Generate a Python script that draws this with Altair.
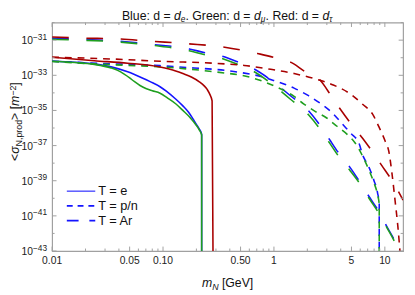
import altair as alt
import numpy as np
import pandas as pd

# ---------------- data (m in GeV, log10 <sigma> in m^-2) -------------
# d = d_e (blue)
blue_e_m = [0.01, 0.016, 0.024, 0.034, 0.048, 0.065, 0.0765, 0.094, 0.107, 0.13, 0.151, 0.17, 0.185, 0.2, 0.212, 0.223, 0.2231]
blue_e_lg = [-32.2, -32.26, -32.35, -32.52, -32.8, -33.15, -33.36, -33.65, -33.9, -34.35, -34.74, -35.1, -35.45, -35.8, -36.05, -36.36, -44.0]
blue_pn_m = [0.01, 0.03, 0.094, 0.14, 0.36, 0.51, 0.8, 1.0, 1.52, 2.05, 2.69, 3.37, 4.12, 4.95, 5.87, 6.28, 7.2, 7.96, 8.6, 8.9, 8.901]
blue_pn_lg = [-32.2, -32.33, -32.45, -32.53, -32.72, -32.85, -33.1, -33.3, -33.73, -34.16, -34.65, -35.15, -35.76, -36.31, -36.9, -37.5, -38.24, -38.97, -39.7, -40.3, -44.0]
blue_ar_m = [0.01, 0.0184, 0.039, 0.082, 0.172, 0.234, 0.33, 0.48, 0.645, 0.94, 1.4, 2.05, 2.6, 3.18, 3.91, 4.85, 6.07, 7.2, 8.83, 10.4, 12.8, 13.8]
blue_ar_lg = [-30.9, -30.95, -31.05, -31.25, -31.5, -31.7, -31.89, -32.26, -32.6, -33.27, -34.15, -35.02, -35.84, -36.67, -37.5, -38.24, -39.16, -39.9, -40.75, -41.6, -42.7, -43.3]

# d = d_mu (green)
green_e_m = [0.01, 0.016, 0.024, 0.034, 0.039, 0.045, 0.05, 0.055, 0.062, 0.07, 0.08, 0.094, 0.11, 0.13, 0.151, 0.175, 0.197, 0.212, 0.223, 0.2231]
green_e_lg = [-32.2, -32.27, -32.38, -32.58, -32.72, -32.95, -33.15, -33.35, -33.58, -33.75, -33.88, -34.02, -34.3, -34.62, -35.0, -35.4, -35.8, -36.1, -36.4, -44.0]
green_pn_m = [0.01, 0.03, 0.094, 0.14, 0.36, 0.51, 0.8, 1.0, 1.52, 1.85, 2.35, 2.99, 3.7, 4.55, 5.4, 6.3, 7.2, 7.96, 8.6, 8.9, 8.901]
green_pn_lg = [-32.22, -32.38, -32.52, -32.6, -32.87, -33.0, -33.35, -33.6, -34.2, -34.62, -35.05, -35.43, -35.9, -36.35, -36.85, -37.6, -38.4, -39.1, -39.8, -40.35, -44.0]
green_ar_m = [0.01, 0.0184, 0.039, 0.082, 0.172, 0.234, 0.33, 0.48, 0.645, 0.94, 1.4, 2.05, 2.6, 3.18, 3.91, 4.85, 6.07, 7.2, 8.83, 10.4, 12.8, 13.8]
green_ar_lg = [-30.95, -31.0, -31.1, -31.3, -31.6, -31.82, -32.02, -32.4, -32.75, -33.45, -34.35, -35.25, -36.06, -36.86, -37.69, -38.42, -39.25, -40.0, -40.85, -41.65, -42.75, -43.3]

# d = d_tau (red)
red_e_m = [0.01, 0.024, 0.048, 0.094, 0.13, 0.151, 0.18, 0.211, 0.235, 0.251, 0.265, 0.277, 0.2828]
red_e_lg = [-31.97, -32.17, -32.31, -32.53, -32.75, -32.9, -33.1, -33.36, -33.6, -33.82, -34.1, -34.46, -44.0]
red_pn_m = [0.01, 0.034, 0.094, 0.36, 0.54, 0.87, 1.52, 2.28, 3.43, 4.98, 6.3, 7.73, 8.85, 10.1, 10.85, 11.6, 12.4, 13.1, 13.8]
red_pn_lg = [-31.97, -32.07, -32.2, -32.35, -32.44, -32.63, -32.9, -33.18, -33.55, -34.1, -34.65, -35.2, -35.94, -36.77, -37.32, -38.6, -40.2, -41.6, -43.3]
red_ar_m = [0.01, 0.0184, 0.039, 0.082, 0.172, 0.36, 0.71, 1.0, 1.51, 1.86, 2.6, 3.3, 4.06, 5.07, 6.3, 7.47, 9.4, 11.55, 14.6]
red_ar_lg = [-30.82, -30.88, -30.93, -31.07, -31.21, -31.4, -31.76, -31.98, -32.35, -32.75, -33.27, -34.19, -35.02, -35.84, -36.58, -37.22, -38.14, -38.97, -40.1]

# axes ticks / labels
x_major = [0.01, 0.05, 0.1, 0.5, 1, 5, 10]
x_major_labels = ["0.01", "0.05", "0.10", "0.50", "1", "5", "10"]
x_minor = [0.02, 0.03, 0.04, 0.06, 0.07, 0.08, 0.09, 0.2, 0.3, 0.4, 0.6, 0.7, 0.8, 0.9,
           2, 3, 4, 6, 7, 8, 9]
y_major_exp = [-31, -33, -35, -37, -39, -41, -43]
y_minor_exp = [-30, -32, -34, -36, -38, -40, -42]

legend_labels = ["T = e", "T = p/n", "T = Ar"]

# ---------------- styling ----------------
W, H = 358, 233
FONT = "Liberation Sans"
BLUE, GREEN, RED = "#1414ff", "#1f9f1f", "#a80000"
FRAME = "#a0a0a0"
DASH_PN = [7, 6]
DASH_AR = [17, 18]

xscale = alt.Scale(type="log", domain=[0.01, 14.6], nice=False)
yscale = alt.Scale(type="log", domain=[1e-43, 1e-30], nice=False)

AW = {' ': 278, '.': 278, ':': 278, ',': 278, '=': 584, '<': 584, '>': 584, '[': 278, ']': 278,
      '/': 278, 'B': 667, 'G': 778, 'R': 722, 'T': 611, 'A': 667, 'V': 667, 'N': 722,
      'e': 556, 'l': 222, 'u': 556, 'd': 556, 'r': 333, 'n': 556, 'o': 556, 'p': 556,
      'm': 833, 'μ': 576, 'τ': 480, 'σ': 600, '−': 584, '2': 556}


def tw(s, size):
    return sum(AW.get(c, 556) for c in s) / 1000.0 * size


def txt(s, x, y, size, italic=False, angle=0, align="left", baseline="alphabetic", color="#111"):
    kw = dict(align=align, baseline=baseline, fontSize=size, font=FONT, color=color)
    if italic:
        kw["fontStyle"] = "italic"
    if angle:
        kw["angle"] = angle
    return alt.Chart(pd.DataFrame({"t": [s]})).mark_text(**kw).encode(
        text="t:N", x=alt.value(x), y=alt.value(y))


def rich_h(pieces, cx, base_y):
    total = sum(tw(t, s) for t, s, _, _ in pieces)
    x = cx - total / 2
    out = []
    for t, s, it, dy in pieces:
        lead = len(t) - len(t.lstrip())
        out.append(txt(t.strip(), x + tw(t[:lead], s), base_y + dy, s, it))
        x += tw(t, s)
    return out


def rich_v(pieces, base_x, cy):
    total = sum(tw(t, s) for t, s, _, _ in pieces)
    y = cy + total / 2
    out = []
    for t, s, it, dx in pieces:
        lead = len(t) - len(t.lstrip())
        out.append(txt(t.strip(), base_x + dx, y - tw(t[:lead], s), s, it, angle=270))
        y -= tw(t, s)
    return out


def curve(m, lg, color, dash=None):
    df = pd.DataFrame({"m": m, "s": 10.0 ** np.array(lg)})
    kw = dict(color=color, strokeWidth=1.6, clip=True, interpolate="monotone")
    if dash:
        kw["strokeDash"] = dash
    return alt.Chart(df).mark_line(**kw).encode(
        x=alt.X("m:Q", scale=xscale, axis=None),
        y=alt.Y("s:Q", scale=yscale, axis=None),
        order=alt.Order("m:Q"))


layers = []
for m, lg, col, d in [
    (blue_ar_m, blue_ar_lg, BLUE, DASH_AR), (blue_pn_m, blue_pn_lg, BLUE, DASH_PN), (blue_e_m, blue_e_lg, BLUE, None),
    (green_ar_m, green_ar_lg, GREEN, DASH_AR), (green_pn_m, green_pn_lg, GREEN, DASH_PN), (green_e_m, green_e_lg, GREEN, None),
    (red_ar_m, red_ar_lg, RED, DASH_AR), (red_pn_m, red_pn_lg, RED, DASH_PN), (red_e_m, red_e_lg, RED, None),
]:
    layers.append(curve(m, lg, col, d))

xmaj = pd.DataFrame({"m": x_major, "lab": x_major_labels})
xmin = pd.DataFrame({"m": x_minor})
ymaj = pd.DataFrame({"s": [10.0 ** e for e in y_major_exp],
                     "lab": ["−" + str(abs(e)) for e in y_major_exp]})
ymin = pd.DataFrame({"s": [10.0 ** e for e in y_minor_exp]})

tick_kw = dict(color=FRAME, strokeWidth=1)
for df, ln in [(xmaj, 4.5), (xmin, 2.5)]:
    layers.append(alt.Chart(df).mark_rule(**tick_kw).encode(
        x=alt.X("m:Q", scale=xscale, axis=None), y=alt.value(H), y2=alt.value(H - ln)))
    layers.append(alt.Chart(df).mark_rule(**tick_kw).encode(
        x=alt.X("m:Q", scale=xscale, axis=None), y=alt.value(0), y2=alt.value(ln)))
for df, ln in [(ymaj, 4.5), (ymin, 2.5)]:
    layers.append(alt.Chart(df).mark_rule(**tick_kw).encode(
        y=alt.Y("s:Q", scale=yscale, axis=None), x=alt.value(0), x2=alt.value(ln)))
    layers.append(alt.Chart(df).mark_rule(**tick_kw).encode(
        y=alt.Y("s:Q", scale=yscale, axis=None), x=alt.value(W), x2=alt.value(W - ln)))

# x tick labels
layers.append(alt.Chart(xmaj).mark_text(align="center", baseline="middle", fontSize=10.5, font=FONT,
                                        color="#222").encode(
    x=alt.X("m:Q", scale=xscale, axis=None), y=alt.value(H + 10), text="lab:N"))

# y tick labels 10^n
layers.append(alt.Chart(ymaj).mark_text(align="right", baseline="middle", fontSize=10.5, font=FONT,
                                        color="#222", dy=1).encode(
    y=alt.Y("s:Q", scale=yscale, axis=None), x=alt.value(-19.5), text=alt.value("10")))
layers.append(alt.Chart(ymaj).mark_text(align="left", baseline="middle", fontSize=8.5, font=FONT,
                                        color="#222", dy=-3.5).encode(
    y=alt.Y("s:Q", scale=yscale, axis=None), x=alt.value(-19.5), text="lab:N"))

# title
layers += rich_h([("Blue: d = ", 12.5, False, 0), ("d", 12.5, True, 0), ("e", 8.5, True, 2),
                  (". Green: d = ", 12.5, False, 0), ("d", 12.5, True, 0), ("μ", 8.5, True, 2),
                  (". Red: d = ", 12.5, False, 0), ("d", 12.5, True, 0), ("τ", 8.5, True, 2)],
                 W / 2, -3)
# x title
layers += rich_h([("m", 12.5, True, 0), ("N", 9, True, 2.5), (" [GeV]", 12.5, False, 0)], W / 2, 270)
# y title
layers += rich_v([("<", 12.5, False, 0), ("σ", 12.5, True, 0), ("N,prod", 9, False, 3),
                  ("> [", 12.5, False, 0), ("m", 12.5, True, 0), ("−2", 9, False, -3.8),
                  ("]", 12.5, False, 0)], -33.3, 101)

# legend
leg_rows = [172, 187, 202]
leg_styles = [("#6262ff", None), (BLUE, [6, 5]), (BLUE, [12, 11])]
for lab, yy, (col, dash) in zip(legend_labels, leg_rows, leg_styles):
    kw = dict(color=col, strokeWidth=1.6)
    if dash:
        kw["strokeDash"] = dash
    layers.append(alt.Chart(pd.DataFrame({"t": [lab]})).mark_rule(**kw).encode(
        x=alt.value(15), x2=alt.value(44), y=alt.value(yy)))
    layers.append(txt(lab, 47, yy, 13, baseline="middle"))

chart = alt.layer(*layers).properties(
    width=W, height=H,
    padding={"left": 45, "top": 12, "right": 4, "bottom": 42},
    autosize=alt.AutoSizeParams(type="none"),
    background="white",
).configure_view(stroke=FRAME, strokeWidth=1.2)

chart.save("out.html", embed_options={"renderer": "svg", "actions": False})
